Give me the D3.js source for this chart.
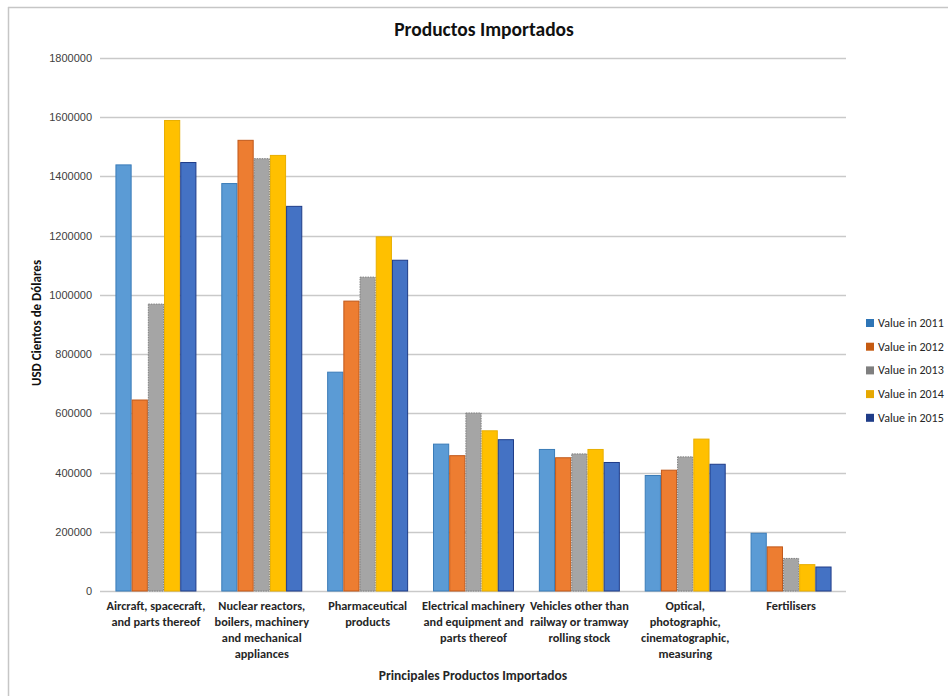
<!DOCTYPE html>
<html>
<head>
<meta charset="utf-8">
<script src="https://cdn.jsdelivr.net/npm/d3@7"></script>
<style>
  html, body { margin: 0; padding: 0; background: #fff; }
  svg { display: block; font-family: Carlito, Calibri, "Liberation Sans", Arial, sans-serif; }
</style>
</head>
<body>
<svg id="chart" width="948" height="696"></svg>
<script>
// Import categories (multi-line labels)
const categories = [
  ["Aircraft, spacecraft,", "and parts thereof"],
  ["Nuclear reactors,", "boilers, machinery", "and mechanical", "appliances"],
  ["Pharmaceutical", "products"],
  ["Electrical machinery", "and equipment and", "parts thereof"],
  ["Vehicles other than", "railway or tramway", "rolling stock"],
  ["Optical,", "photographic,", "cinematographic,", "measuring"],
  ["Fertilisers"]
];
const seriesNames = ["Value in 2011", "Value in 2012", "Value in 2013", "Value in 2014", "Value in 2015"];
const value2011 = [1439000, 1376000, 739000, 496000, 478000, 390000, 195000];
const value2012 = [645000, 1522000, 979000, 457000, 450000, 408000, 149000];
const value2013 = [969000, 1460000, 1060000, 601000, 463000, 453000, 110000];
const value2014 = [1589000, 1471000, 1196000, 541000, 478000, 513000, 89000];
const value2015 = [1447000, 1299000, 1117000, 511000, 434000, 428000, 81000];
const yTicks = [0, 200000, 400000, 600000, 800000, 1000000, 1200000, 1400000, 1600000, 1800000];

const seriesValues = [value2011, value2012, value2013, value2014, value2015];
const fills = ["#5B9BD5", "#ED7D31", "#A5A5A5", "#FFC000", "#4472C4"];
const strokes = ["#3A7CB8", "#C0581A", "#7F7F7F", "#E8AE00", "#1F3C88"];
const legendFills = ["#2E75B6", "#C55A11", "#7F7F7F", "#E6A800", "#1F3C88"];

const svg = d3.select("#chart");

// Chart frame
svg.append("line").attr("x1", 8).attr("x2", 948).attr("y1", 7.5).attr("y2", 7.5)
  .attr("stroke", "#c6c6c6").attr("stroke-width", 1.5);
svg.append("line").attr("x1", 8.5).attr("x2", 8.5).attr("y1", 7).attr("y2", 696)
  .attr("stroke", "#c6c6c6").attr("stroke-width", 1.5);

const plot = { left: 100, right: 846, top: 58, bottom: 591 };

const x0 = d3.scaleBand()
  .domain(d3.range(categories.length))
  .range([103, 844])
  .paddingInner(0.235)
  .paddingOuter(0.1175);

const x1 = d3.scaleBand()
  .domain(d3.range(seriesNames.length))
  .range([0, x0.bandwidth()]);

const y = d3.scaleLinear().domain([0, 1800000]).range([plot.bottom, plot.top]);

// Gridlines
svg.append("g")
  .selectAll("line")
  .data(yTicks)
  .join("line")
  .attr("x1", plot.left)
  .attr("x2", plot.right)
  .attr("y1", d => Math.round(y(d)) + 0.5)
  .attr("y2", d => Math.round(y(d)) + 0.5)
  .attr("stroke", "#c9c9c9")
  .attr("stroke-width", 1.3);

// Y axis labels
const yAxis = d3.axisLeft(y).tickValues(yTicks).tickSize(0).tickPadding(8).tickFormat(d3.format("d"));
const yg = svg.append("g").attr("transform", `translate(${plot.left},0)`).call(yAxis);
yg.select(".domain").remove();
yg.selectAll("text").attr("font-size", 11).attr("fill", "#404040");

// Bars
const groups = svg.append("g")
  .selectAll("g")
  .data(categories.map((c, i) => i))
  .join("g")
  .attr("transform", i => `translate(${x0(i)},0)`);

groups.selectAll("rect")
  .data(i => seriesValues.map((vals, s) => ({ s, v: vals[i] })))
  .join("rect")
  .attr("x", d => x1(d.s) + 0.5)
  .attr("width", x1.bandwidth() - 1)
  .attr("y", d => y(d.v))
  .attr("height", d => y(0) - y(d.v))
  .attr("fill", d => fills[d.s])
  .attr("stroke", d => strokes[d.s])
  .attr("stroke-width", 1)
  .attr("stroke-dasharray", d => d.s === 2 ? "1.5,1" : null);

// X category labels
const xl = svg.append("g");
categories.forEach((lines, i) => {
  const cx = x0(i) + x0.bandwidth() / 2;
  const t = xl.append("text")
    .attr("x", cx)
    .attr("y", 610)
    .attr("text-anchor", "middle")
    .attr("font-size", 12.3)
    .attr("font-weight", "bold")
    .attr("fill", "#262626");
  lines.forEach((ln, k) => {
    t.append("tspan").attr("x", cx).attr("dy", k === 0 ? 0 : 16).text(ln);
  });
});

// Title
svg.append("text")
  .attr("x", 484).attr("y", 36)
  .attr("text-anchor", "middle")
  .attr("font-size", 19.5)
  .attr("font-weight", "bold")
  .attr("fill", "#111")
  .text("Productos Importados");

// Axis titles
svg.append("text")
  .attr("transform", "translate(41,323) rotate(-90)")
  .attr("text-anchor", "middle")
  .attr("font-size", 13)
  .attr("font-weight", "bold")
  .attr("fill", "#111")
  .text("USD Cientos de Dólares");

svg.append("text")
  .attr("x", 473).attr("y", 680)
  .attr("text-anchor", "middle")
  .attr("font-size", 13.5)
  .attr("font-weight", "bold")
  .attr("fill", "#262626")
  .text("Principales  Productos Importados");

// Legend
const legend = svg.append("g")
  .selectAll("g")
  .data(seriesNames)
  .join("g")
  .attr("transform", (d, i) => `translate(866,${323 + i * 23.7})`);
legend.append("rect")
  .attr("x", 0).attr("y", -4).attr("width", 8).attr("height", 8)
  .attr("fill", (d, i) => legendFills[i]);
legend.append("text")
  .attr("x", 12).attr("y", 4)
  .attr("font-size", 12)
  .attr("fill", "#262626")
  .text(d => d);
</script>
</body>
</html>
